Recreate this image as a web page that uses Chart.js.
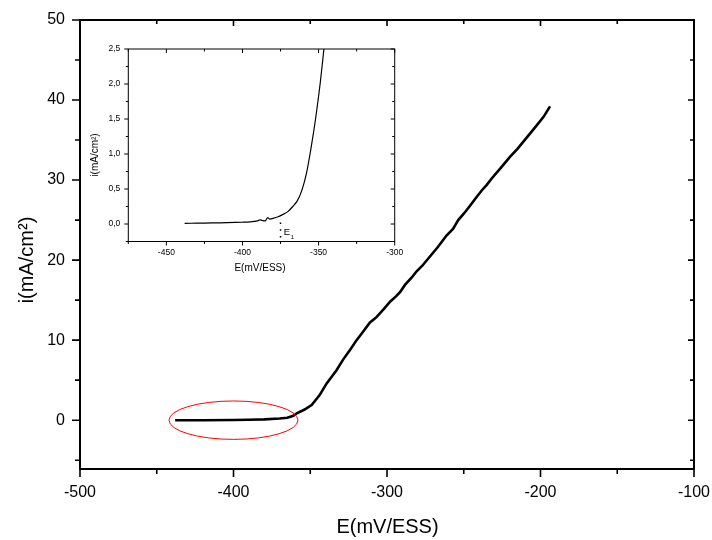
<!DOCTYPE html>
<html>
<head>
<meta charset="utf-8">
<script src="https://cdn.jsdelivr.net/npm/chart.js@4.4.0/dist/chart.umd.min.js"></script>
<style>
html, body { margin: 0; padding: 0; background: #fff; }
#wrap { position: relative; width: 712px; height: 540px; }
#main-chart { position: absolute; left: 0; top: 0; }
#inset-chart { position: absolute; left: 80px; top: 40px; }
</style>
</head>
<body>
<div id="wrap">
  <canvas id="main-chart" width="712" height="540"></canvas>
  <canvas id="inset-chart" width="330" height="245"></canvas>
</div>
<script>
// main curve, E (mV/ESS) vs i (mA/cm2)
var mainE = [-438, -420, -400, -390, -380, -370, -365, -361, -358.8, -354, -349.1, -344, -339.3, -333, -328.5, -324,
             -319.8, -315, -311.1, -308.5, -306.7, -302, -298, -294, -291.5, -288.3, -284, -280.7, -277, -273.1,
             -267, -261.1, -257, -253.6, -250, -245.9, -242, -238.3, -235, -231.8, -226, -219.9, -215, -209,
             -203, -198, -193.8];
var mainI = [0, 0, 0.02, 0.05, 0.1, 0.2, 0.3, 0.55, 0.84, 1.3, 1.9, 3.1, 4.6, 6.2, 7.6, 8.8,
             10.0, 11.2, 12.2, 12.6, 12.9, 13.9, 14.8, 15.5, 16.0, 16.9, 17.8, 18.6, 19.3, 20.2,
             21.6, 23.1, 23.9, 25.0, 25.8, 26.8, 27.8, 28.7, 29.4, 30.2, 31.5, 32.9, 33.9, 35.3,
             36.7, 37.9, 39.2];

// inset curve (zoom on the onset)
var insetE = [-438, -430, -420, -410, -400, -395, -390, -388.5, -387, -385, -383.5, -382, -380, -377, -374,
              -370, -367, -364, -361, -358, -355, -352, -349, -346, -344];
var insetI = [0.01, 0.012, 0.015, 0.02, 0.025, 0.03, 0.045, 0.06, 0.05, 0.045, 0.09, 0.07, 0.08, 0.1, 0.13,
              0.18, 0.25, 0.33, 0.48, 0.72, 1.08, 1.5, 2.0, 2.6, 3.0];

// tick values
var mainXTicks = [-500, -400, -300, -200, -100];
var mainXMinor = [-450, -350, -250, -150];
var mainYTicks = [0, 10, 20, 30, 40, 50];
var mainYMinor = [-5, 5, 15, 25, 35, 45];
var insetXTicks = [-450, -400, -350, -300];
var insetXMinor = [-475, -425, -375, -325];
var insetYTicks = [0, 0.5, 1, 1.5, 2, 2.5];
var insetYLabels = ['0,0', '0,5', '1,0', '1,5', '2,0', '2,5'];
var insetYMinor = [-0.25, 0.25, 0.75, 1.25, 1.75, 2.25];

// red ellipse around the flat part: centre and half sizes in data units
var ellipseE = -400, ellipseI = 0, ellipseHalfE = 42, ellipseHalfI = 2.4;
var e1 = -375;

var FONT = "'Liberation Sans', Arial, sans-serif";

function toPoints(xs, ys) {
    return xs.map(function(x, k) { return { x: x, y: ys[k] }; });
}

function setTicks(vals) {
    return function(scale) {
        scale.ticks = vals.map(function(v) { return { value: v }; });
    };
}

// axis box, tick marks and titles
function framePlugin(cfg) {
    return {
        id: 'frame',
        afterDatasetsDraw: function(chart) {
            var ctx = chart.ctx, a = chart.chartArea;
            var xs = chart.scales.x, ys = chart.scales.y;
            ctx.save();
            ctx.strokeStyle = '#000';
            ctx.lineWidth = cfg.width;
            ctx.strokeRect(a.left, a.top, a.right - a.left, a.bottom - a.top);
            ctx.lineWidth = cfg.tickWidth;
            function xt(vals, outLen, inLen) {
                vals.forEach(function(v) {
                    var px = xs.getPixelForValue(v);
                    ctx.beginPath();
                    ctx.moveTo(px, a.bottom); ctx.lineTo(px, a.bottom + outLen);
                    ctx.moveTo(px, a.top); ctx.lineTo(px, a.top + inLen);
                    ctx.stroke();
                });
            }
            function yt(vals, outLen, inLen) {
                vals.forEach(function(v) {
                    var py = ys.getPixelForValue(v);
                    ctx.beginPath();
                    ctx.moveTo(a.left, py); ctx.lineTo(a.left - outLen, py);
                    ctx.moveTo(a.right, py); ctx.lineTo(a.right - inLen, py);
                    ctx.stroke();
                });
            }
            xt(cfg.xMajor, cfg.majOut, cfg.majIn);
            xt(cfg.xMinor, cfg.minOut, cfg.minIn);
            yt(cfg.yMajor, cfg.majOut, cfg.majIn);
            yt(cfg.yMinor, cfg.minOut, cfg.minIn);

            ctx.fillStyle = '#000';
            ctx.textAlign = 'center';
            ctx.textBaseline = 'middle';
            ctx.font = cfg.titleSize + 'px ' + FONT;
            ctx.fillText('E(mV/ESS)', cfg.xTitle[0], cfg.xTitle[1]);
            ctx.translate(cfg.yTitle[0], cfg.yTitle[1]);
            ctx.rotate(-Math.PI / 2);
            ctx.fillText('i(mA/cm²)', 0, 0);
            ctx.restore();
            if (cfg.extra) cfg.extra(chart);
        }
    };
}

function baseScales(xMin, xMax, yMin, yMax, xTicks, yTicks, yLabels, fontSize, xPad, yPad, yWidth, xHeight) {
    return {
        x: {
            type: 'linear', position: 'bottom', min: xMin, max: xMax,
            afterBuildTicks: setTicks(xTicks),
            afterFit: function(s) { s.height = xHeight; s.paddingLeft = 0; s.paddingRight = 0; },
            grid: { display: false, drawTicks: false },
            border: { display: false },
            ticks: {
                color: '#000', padding: xPad, maxRotation: 0,
                font: { size: fontSize, family: FONT },
                callback: function(v) { return String(v); }
            }
        },
        y: {
            type: 'linear', position: 'left', min: yMin, max: yMax,
            afterBuildTicks: setTicks(yTicks),
            afterFit: function(s) { s.width = yWidth; s.paddingTop = 0; s.paddingBottom = 0; },
            grid: { display: false, drawTicks: false },
            border: { display: false },
            ticks: {
                color: '#000', padding: yPad,
                font: { size: fontSize, family: FONT },
                callback: function(v) {
                    if (yLabels) return yLabels[yTicks.indexOf(v)];
                    return String(v);
                }
            }
        }
    };
}

var mainChart = new Chart(document.getElementById('main-chart').getContext('2d'), {
    type: 'line',
    data: {
        datasets: [{
            data: toPoints(mainE, mainI),
            borderColor: '#000',
            borderWidth: 2.6,
            pointRadius: 0,
            tension: 0,
            fill: false
        }]
    },
    options: {
        responsive: false,
        animation: false,
        layout: { padding: { left: 0, right: 18, top: 20, bottom: 0 } },
        plugins: { legend: { display: false }, tooltip: { enabled: false } },
        scales: baseScales(-500, -100, -6.1, 50, mainXTicks, mainYTicks, null, 16, 14, 15, 80, 71)
    },
    plugins: [framePlugin({
        width: 2, tickWidth: 1.6,
        xMajor: mainXTicks, xMinor: mainXMinor, yMajor: mainYTicks, yMinor: mainYMinor,
        majOut: 8, majIn: 6, minOut: 5, minIn: 4,
        titleSize: 20, xTitle: [387.5, 527], yTitle: [27, 260],
        extra: function(chart) {
            var ctx = chart.ctx, xs = chart.scales.x, ys = chart.scales.y;
            var cx = xs.getPixelForValue(ellipseE), cy = ys.getPixelForValue(ellipseI);
            var rx = xs.getPixelForValue(ellipseE + ellipseHalfE) - cx;
            var ry = cy - ys.getPixelForValue(ellipseI + ellipseHalfI);
            ctx.save();
            ctx.strokeStyle = '#ff0000';
            ctx.lineWidth = 1;
            ctx.beginPath();
            ctx.ellipse(cx, cy, rx, ry, 0, 0, Math.PI * 2);
            ctx.stroke();
            ctx.restore();
        }
    })]
});

var insetChart = new Chart(document.getElementById('inset-chart').getContext('2d'), {
    type: 'line',
    data: {
        datasets: [{
            data: toPoints(insetE, insetI),
            borderColor: '#000',
            borderWidth: 1.2,
            pointRadius: 0,
            tension: 0.3,
            fill: false
        }]
    },
    options: {
        responsive: false,
        animation: false,
        layout: { padding: { left: 0, right: 15.3, top: 9, bottom: 0 } },
        plugins: { legend: { display: false }, tooltip: { enabled: false } },
        scales: baseScales(-475, -300, -0.25, 2.5, insetXTicks, insetYTicks, insetYLabels, 8.5, 6, 8, 48.3, 43.5)
    },
    plugins: [framePlugin({
        width: 1, tickWidth: 1,
        xMajor: insetXTicks, xMinor: insetXMinor, yMajor: insetYTicks, yMinor: insetYMinor,
        majOut: 4, majIn: 4, minOut: 2.5, minIn: 2.5,
        titleSize: 10, xTitle: [180, 228], yTitle: [15.7, 115],
        extra: function(chart) {
            var ctx = chart.ctx, xs = chart.scales.x, ys = chart.scales.y, a = chart.chartArea;
            var px = xs.getPixelForValue(e1);
            ctx.save();
            ctx.strokeStyle = '#000';
            ctx.lineWidth = 1.5;
            ctx.setLineDash([1.5, 5.2]);
            ctx.beginPath();
            ctx.moveTo(px, ys.getPixelForValue(0.02));
            ctx.lineTo(px, a.bottom + 1.5);
            ctx.stroke();
            ctx.setLineDash([]);
            ctx.fillStyle = '#000';
            ctx.textBaseline = 'middle';
            ctx.textAlign = 'left';
            ctx.font = '9.5px ' + FONT;
            ctx.fillText('E', px + 3.3, 192);
            var w = ctx.measureText('E').width;
            ctx.font = '6px ' + FONT;
            ctx.fillText('1', px + 3.8 + w, 197.5);
            ctx.restore();
        }
    })]
});
</script>
</body>
</html>
